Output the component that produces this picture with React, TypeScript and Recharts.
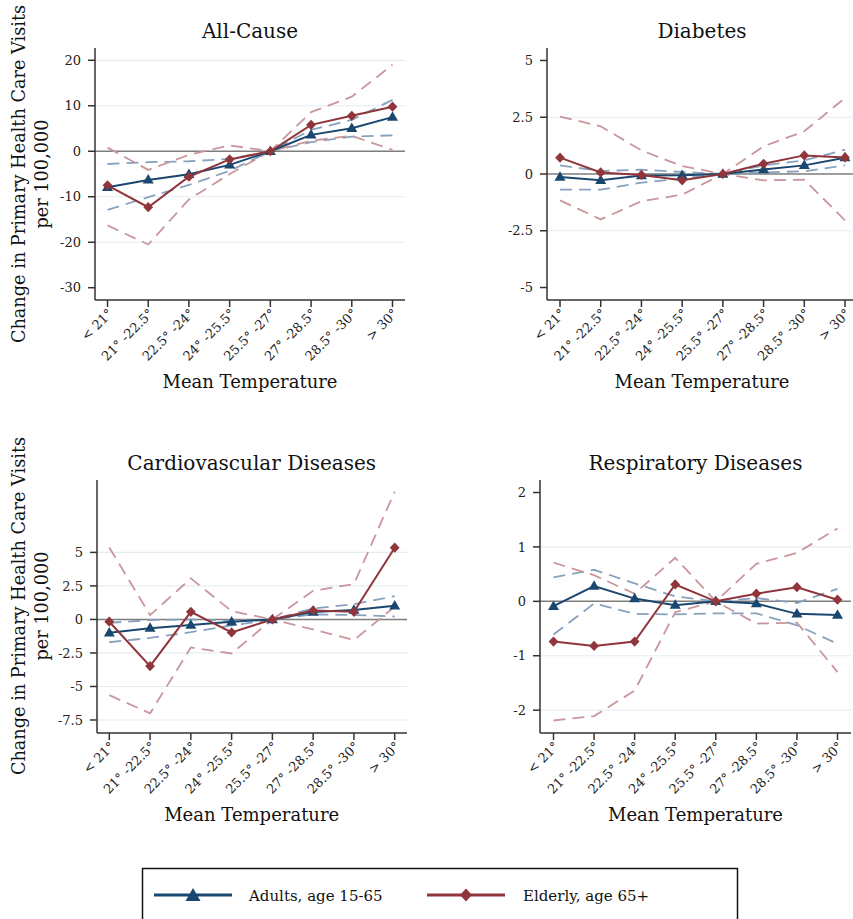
import React from 'react'
import { LineChart, Line, XAxis, YAxis, CartesianGrid } from 'recharts'

const categories = ['< 21°', '21° -22.5°', '22.5° -24°', '24° -25.5°', '25.5° -27°', '27° -28.5°', '28.5° -30°', '> 30°']

// All-Cause
const allAdults = [-7.9, -6.3, -5.05, -3.0, 0, 3.6, 5.05, 7.5]
const allAdultsHi = [-2.8, -2.4, -2.2, -1.7, 0, 4.7, 6.9, 11.3]
const allAdultsLo = [-12.9, -10.1, -7.4, -4.3, 0, 2.0, 3.2, 3.5]
const allElderly = [-7.5, -12.3, -5.6, -1.8, 0, 5.8, 7.8, 9.8]
const allElderlyHi = [0.8, -4.1, -0.8, 1.3, 0, 8.6, 12.0, 19.0]
const allElderlyLo = [-16.3, -20.5, -10.6, -5.0, 0, 2.3, 3.4, 0.3]

// Diabetes
const diabAdults = [-0.13, -0.28, -0.07, -0.06, 0, 0.2, 0.38, 0.72]
const diabAdultsHi = [0.38, 0.13, 0.19, 0.09, 0, 0.38, 0.6, 1.07]
const diabAdultsLo = [-0.69, -0.69, -0.38, -0.2, 0, 0.07, 0.12, 0.38]
const diabElderly = [0.72, 0.07, -0.04, -0.28, 0, 0.45, 0.82, 0.73]
const diabElderlyHi = [2.53, 2.1, 1.04, 0.35, 0, 1.22, 1.88, 3.35]
const diabElderlyLo = [-1.16, -2.0, -1.2, -0.91, 0, -0.28, -0.25, -2.04]

// Cardiovascular
const cardAdults = [-1.0, -0.65, -0.42, -0.17, 0, 0.55, 0.7, 1.02]
const cardAdultsHi = [-0.25, -0.05, 0.0, -0.1, 0, 0.82, 1.14, 1.74]
const cardAdultsLo = [-1.7, -1.38, -0.95, -0.45, 0, 0.37, 0.33, 0.22]
const cardElderly = [-0.17, -3.48, 0.57, -0.97, 0, 0.67, 0.57, 5.35]
const cardElderlyHi = [5.37, 0.32, 3.06, 0.62, 0, 2.14, 2.64, 9.53]
const cardElderlyLo = [-5.65, -7.0, -2.09, -2.54, 0, -0.75, -1.54, 0.95]

// Respiratory
const respAdults = [-0.09, 0.28, 0.05, -0.07, 0, -0.04, -0.23, -0.25]
const respAdultsHi = [0.44, 0.58, 0.33, 0.09, 0, 0.06, -0.03, 0.23]
const respAdultsLo = [-0.61, -0.04, -0.23, -0.24, -0.22, -0.22, -0.44, -0.78]
const respElderly = [-0.74, -0.82, -0.74, 0.31, 0, 0.14, 0.26, 0.03]
const respElderlyHi = [0.71, 0.48, 0.14, 0.8, 0, 0.69, 0.89, 1.34]
const respElderlyLo = [-2.19, -2.11, -1.64, -0.2, 0, -0.41, -0.39, -1.3]

const NAVY = '#1a476f'
const MAROON = '#90353b'
const NAVY_CI = '#88a1bc'
const MAROON_CI = '#c9979b'
const AXIS = '#333'
const FONT = '"DejaVu Serif", serif'

const makeRows = (a: number[], aHi: number[], aLo: number[], e: number[], eHi: number[], eLo: number[]) =>
  categories.map((cat, i) => ({
    cat,
    adults: a[i],
    adultsHi: aHi[i],
    adultsLo: aLo[i],
    elderly: e[i],
    elderlyHi: eHi[i],
    elderlyLo: eLo[i],
  }))

const triangle = (props: any) => {
  const { cx, cy, index } = props
  if (cx == null || cy == null) return <g key={`t${index}`} />
  return <path key={`t${index}`} d={`M${cx},${cy - 5.8}L${cx + 5.5},${cy + 3.7}L${cx - 5.5},${cy + 3.7}Z`} fill={NAVY} />
}

const diamond = (props: any) => {
  const { cx, cy, index } = props
  if (cx == null || cy == null) return <g key={`d${index}`} />
  return <path key={`d${index}`} d={`M${cx},${cy - 5.1}L${cx + 4.9},${cy}L${cx},${cy + 5.1}L${cx - 4.9},${cy}Z`} fill={MAROON} />
}

const XTick = (props: any) => {
  const { x, y, payload } = props
  const ax = x + 3
  return (
    <text x={ax} y={y} transform={`rotate(-45 ${ax} ${y})`} textAnchor="end" dy="0.35em" fontSize={13} fontFamily={FONT} fill="#222">
      {payload.value}
    </text>
  )
}

interface PanelProps {
  rows: ReturnType<typeof makeRows>
  left: number
  top: number
  width: number
  yWidth: number
  right: number
  marginTop: number
  plotH: number
  pad: number
  domain: [number, number]
  ticks: number[]
  grid: number[]
}

function Panel({ rows, left, top, width, yWidth, right, marginTop, plotH, pad, domain, ticks, grid }: PanelProps) {
  const height = 400
  return (
    <div style={{ position: 'absolute', left, top }}>
      <LineChart width={width} height={height} data={rows} margin={{ top: marginTop, right, bottom: 0, left: 0 }}>
        <CartesianGrid vertical={false} horizontalValues={grid} stroke="#e4edf0" strokeWidth={1.2} />
        <CartesianGrid vertical={false} horizontalValues={[0]} stroke="#7d7d7d" strokeWidth={1.5} />
        <XAxis
          dataKey="cat"
          interval={0}
          padding={{ left: pad, right: pad }}
          height={height - marginTop - plotH}
          tickSize={7}
          tickMargin={4}
          tick={XTick}
          axisLine={{ stroke: AXIS, strokeWidth: 1.5 }}
          tickLine={{ stroke: AXIS, strokeWidth: 1.5 }}
        />
        <YAxis
          type="number"
          domain={domain}
          ticks={ticks}
          interval={0}
          allowDataOverflow
          width={yWidth}
          tickSize={7}
          tickMargin={7}
          tickFormatter={(v: number) => String(v)}
          tick={{ fill: '#222', fontSize: 13, fontFamily: FONT }}
          axisLine={{ stroke: AXIS, strokeWidth: 1.5 }}
          tickLine={{ stroke: AXIS, strokeWidth: 1.5 }}
        />
        <Line dataKey="adultsHi" stroke={NAVY_CI} strokeWidth={1.8} strokeDasharray="12 7" dot={false} activeDot={false} isAnimationActive={false} />
        <Line dataKey="adultsLo" stroke={NAVY_CI} strokeWidth={1.8} strokeDasharray="12 7" dot={false} activeDot={false} isAnimationActive={false} />
        <Line dataKey="elderlyHi" stroke={MAROON_CI} strokeWidth={1.8} strokeDasharray="12 7" dot={false} activeDot={false} isAnimationActive={false} />
        <Line dataKey="elderlyLo" stroke={MAROON_CI} strokeWidth={1.8} strokeDasharray="12 7" dot={false} activeDot={false} isAnimationActive={false} />
        <Line dataKey="adults" stroke={NAVY} strokeWidth={2} dot={triangle} activeDot={false} isAnimationActive={false} />
        <Line dataKey="elderly" stroke={MAROON} strokeWidth={2} dot={diamond} activeDot={false} isAnimationActive={false} />
      </LineChart>
    </div>
  )
}

const textStyle = { fontFamily: FONT, fill: '#111' }

export default function App() {
  return (
    <div style={{ position: 'absolute', left: 0, top: 0, width: 853, height: 919, overflow: 'hidden', background: '#fff' }}>
      <Panel
        rows={makeRows(allAdults, allAdultsHi, allAdultsLo, allElderly, allElderlyHi, allElderlyLo)}
        left={0} top={0} width={426} yWidth={95} right={21} marginTop={48} plotH={252} pad={12.5}
        domain={[-32.7, 22.7]} ticks={[-30, -20, -10, 0, 10, 20]} grid={[20, 10, -10, -20]}
      />
      <Panel
        rows={makeRows(diabAdults, diabAdultsHi, diabAdultsLo, diabElderly, diabElderlyHi, diabElderlyLo)}
        left={426} top={0} width={432} yWidth={121} right={0} marginTop={48} plotH={252} pad={13}
        domain={[-5.55, 5.55]} ticks={[-5, -2.5, 0, 2.5, 5]} grid={[2.5, -2.5]}
      />
      <Panel
        rows={makeRows(cardAdults, cardAdultsHi, cardAdultsLo, cardElderly, cardElderlyHi, cardElderlyLo)}
        left={0} top={430} width={426} yWidth={97} right={19} marginTop={50} plotH={253} pad={12.3}
        domain={[-8.47, 10.4]} ticks={[-7.5, -5, -2.5, 0, 2.5, 5]} grid={[5, 2.5, -2.5, -5, -7.5]}
      />
      <Panel
        rows={makeRows(respAdults, respAdultsHi, respAdultsLo, respElderly, respElderlyHi, respElderlyLo)}
        left={426} top={430} width={427} yWidth={114} right={2} marginTop={50} plotH={253} pad={13.5}
        domain={[-2.42, 2.23]} ticks={[-2, -1, 0, 1, 2]} grid={[1, -1, -2]}
      />
      <svg width={853} height={919} style={{ position: 'absolute', left: 0, top: 0, pointerEvents: 'none' }}>
        <g {...textStyle} textAnchor="middle" fontSize={20}>
          <text x={250} y={37.5}>All-Cause</text>
          <text x={702} y={37.5}>Diabetes</text>
          <text x={251.7} y={470}>Cardiovascular Diseases</text>
          <text x={695.5} y={470}>Respiratory Diseases</text>
        </g>
        <g {...textStyle} textAnchor="middle" fontSize={18}>
          <text x={250} y={388}>Mean Temperature</text>
          <text x={702} y={388}>Mean Temperature</text>
          <text x={251.7} y={820.5}>Mean Temperature</text>
          <text x={695.5} y={820.5}>Mean Temperature</text>
        </g>
        <g {...textStyle} textAnchor="middle" fontSize={17.7}>
          <text transform="translate(25,174) rotate(-90)">Change in Primary Health Care Visits</text>
          <text transform="translate(47.5,174) rotate(-90)">per 100,000</text>
          <text transform="translate(25,606) rotate(-90)">Change in Primary Health Care Visits</text>
          <text transform="translate(47.5,606) rotate(-90)">per 100,000</text>
        </g>
        <rect x={142.5} y={868.5} width={595} height={80} fill="none" stroke="#111" strokeWidth={1.5} />
        <line x1={154} y1={895} x2={232} y2={895} stroke={NAVY} strokeWidth={3} />
        <path d="M193,888L200.5,901L185.5,901Z" fill={NAVY} />
        <text x={249} y={900.5} fontSize={15} {...textStyle}>Adults, age 15-65</text>
        <line x1={427} y1={895} x2={505} y2={895} stroke={MAROON} strokeWidth={3} />
        <path d="M466,888.5L472,895L466,901.5L460,895Z" fill={MAROON} />
        <text x={523} y={900.5} fontSize={15} {...textStyle}>Elderly, age 65+</text>
      </svg>
    </div>
  )
}
